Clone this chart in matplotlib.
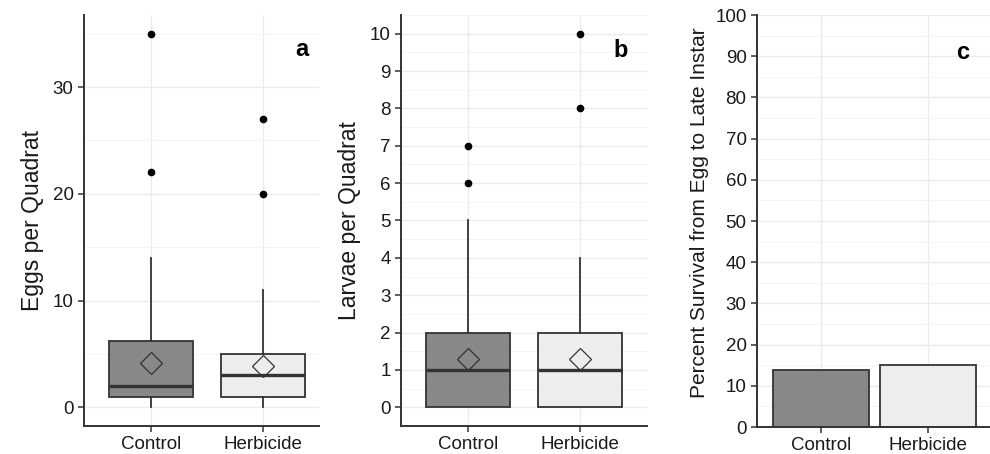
import matplotlib
matplotlib.use("Agg")
import matplotlib.pyplot as plt
from matplotlib.ticker import MultipleLocator

plt.rcParams['font.family'] = ['Liberation Sans', 'DejaVu Sans']

groups = ['Control', 'Herbicide']
fills = ['#888888', '#ededed']

# panel a: eggs per quadrat (box stats)
egg_low = [0, 0]
egg_q1 = [1, 1]
egg_med = [2, 3]
egg_q3 = [6.25, 5]
egg_high = [14, 11]
egg_mean = [4.15, 3.85]
egg_out = [[35, 22], [27, 20]]

# panel b: larvae per quadrat
larva_low = [0, 0]
larva_q1 = [0, 0]
larva_med = [1, 1]
larva_q3 = [2, 2]
larva_high = [5, 4]
larva_mean = [1.3, 1.3]
larva_out = [[6, 7], [8, 10]]

# panel c: percent survival
survival = [13.8, 15.0]

W, H = 990, 454
fig = plt.figure(figsize=(W / 100, H / 100), dpi=100)

def px_axes(left, right, top, bottom):
    return fig.add_axes([left / W, 1 - bottom / H, (right - left) / W, (bottom - top) / H])

def style(ax, ylabel, ylabsize):
    ax.set_facecolor('white')
    for s in ['top', 'right']:
        ax.spines[s].set_visible(False)
    for s in ['left', 'bottom']:
        ax.spines[s].set_color('#333333')
        ax.spines[s].set_linewidth(1.4)
    ax.tick_params(axis='both', which='major', colors='#333333', length=4, width=1.1,
                   labelsize=13.5, labelcolor='#1a1a1a')
    ax.tick_params(axis='y', which='minor', length=0)
    ax.grid(True, which='major', color='#ebebeb', linewidth=1.0, zorder=0)
    ax.grid(True, which='minor', axis='y', color='#f3f3f3', linewidth=0.6, zorder=0)
    ax.set_axisbelow(True)
    ax.set_ylabel(ylabel, fontsize=ylabsize, color='#1a1a1a', labelpad=6)

def boxes(ax, low, q1, med, q3, high, mean, out):
    stats = []
    for i in range(len(groups)):
        stats.append(dict(whislo=low[i], q1=q1[i], med=med[i], q3=q3[i], whishi=high[i],
                          mean=mean[i], fliers=out[i], label=groups[i]))
    bp = ax.bxp(stats, positions=[1, 2], widths=0.75, patch_artist=True, showmeans=True,
                showcaps=False,
                boxprops=dict(edgecolor='#333333', linewidth=1.3),
                medianprops=dict(color='#333333', linewidth=2.4),
                whiskerprops=dict(color='#333333', linewidth=1.3),
                flierprops=dict(marker='o', markerfacecolor='black', markeredgecolor='black',
                                markersize=4.5),
                meanprops=dict(marker='D', markerfacecolor='none', markeredgecolor='#333333',
                               markersize=11.5, markeredgewidth=0.9))
    for patch, c in zip(bp['boxes'], fills):
        patch.set_facecolor(c)
    for m in bp['means']:
        m.set_zorder(5)

# panel a
ax1 = px_axes(84, 319, 15, 426)
boxes(ax1, egg_low, egg_q1, egg_med, egg_q3, egg_high, egg_mean, egg_out)
ax1.set_xlim(0.4, 2.5)
ax1.set_ylim(-1.75, 36.75)
ax1.yaxis.set_major_locator(MultipleLocator(10))
ax1.yaxis.set_minor_locator(MultipleLocator(5))
style(ax1, 'Eggs per Quadrat', 16.5)
ax1.text(2.35, 33.5, 'a', fontsize=17, fontweight='bold', ha='center', va='center')

# panel b
ax2 = px_axes(401, 647, 15, 426)
boxes(ax2, larva_low, larva_q1, larva_med, larva_q3, larva_high, larva_mean, larva_out)
ax2.set_xlim(0.4, 2.6)
ax2.set_ylim(-0.5, 10.5)
ax2.yaxis.set_major_locator(MultipleLocator(1))
ax2.yaxis.set_minor_locator(MultipleLocator(0.5))
style(ax2, 'Larvae per Quadrat', 16.5)
ax2.text(2.36, 9.56, 'b', fontsize=17, fontweight='bold', ha='center', va='center')

# panel c
ax3 = px_axes(757, 990, 15, 427)
ax3.bar([1, 2], survival, width=0.9, color=fills, edgecolor='#333333', linewidth=1.3, zorder=2)
ax3.set_xticks([1, 2])
ax3.set_xticklabels(groups)
ax3.set_xlim(0.4, 2.58)
ax3.set_ylim(0, 100)
ax3.yaxis.set_major_locator(MultipleLocator(10))
ax3.yaxis.set_minor_locator(MultipleLocator(5))
style(ax3, 'Percent Survival from Egg to Late Instar', 15)
ax3.yaxis.set_label_coords(-0.205, 0.52)
ax3.text(2.32, 91, 'c', fontsize=17, fontweight='bold', ha='center', va='center')

fig.savefig('out.png', dpi=100)
